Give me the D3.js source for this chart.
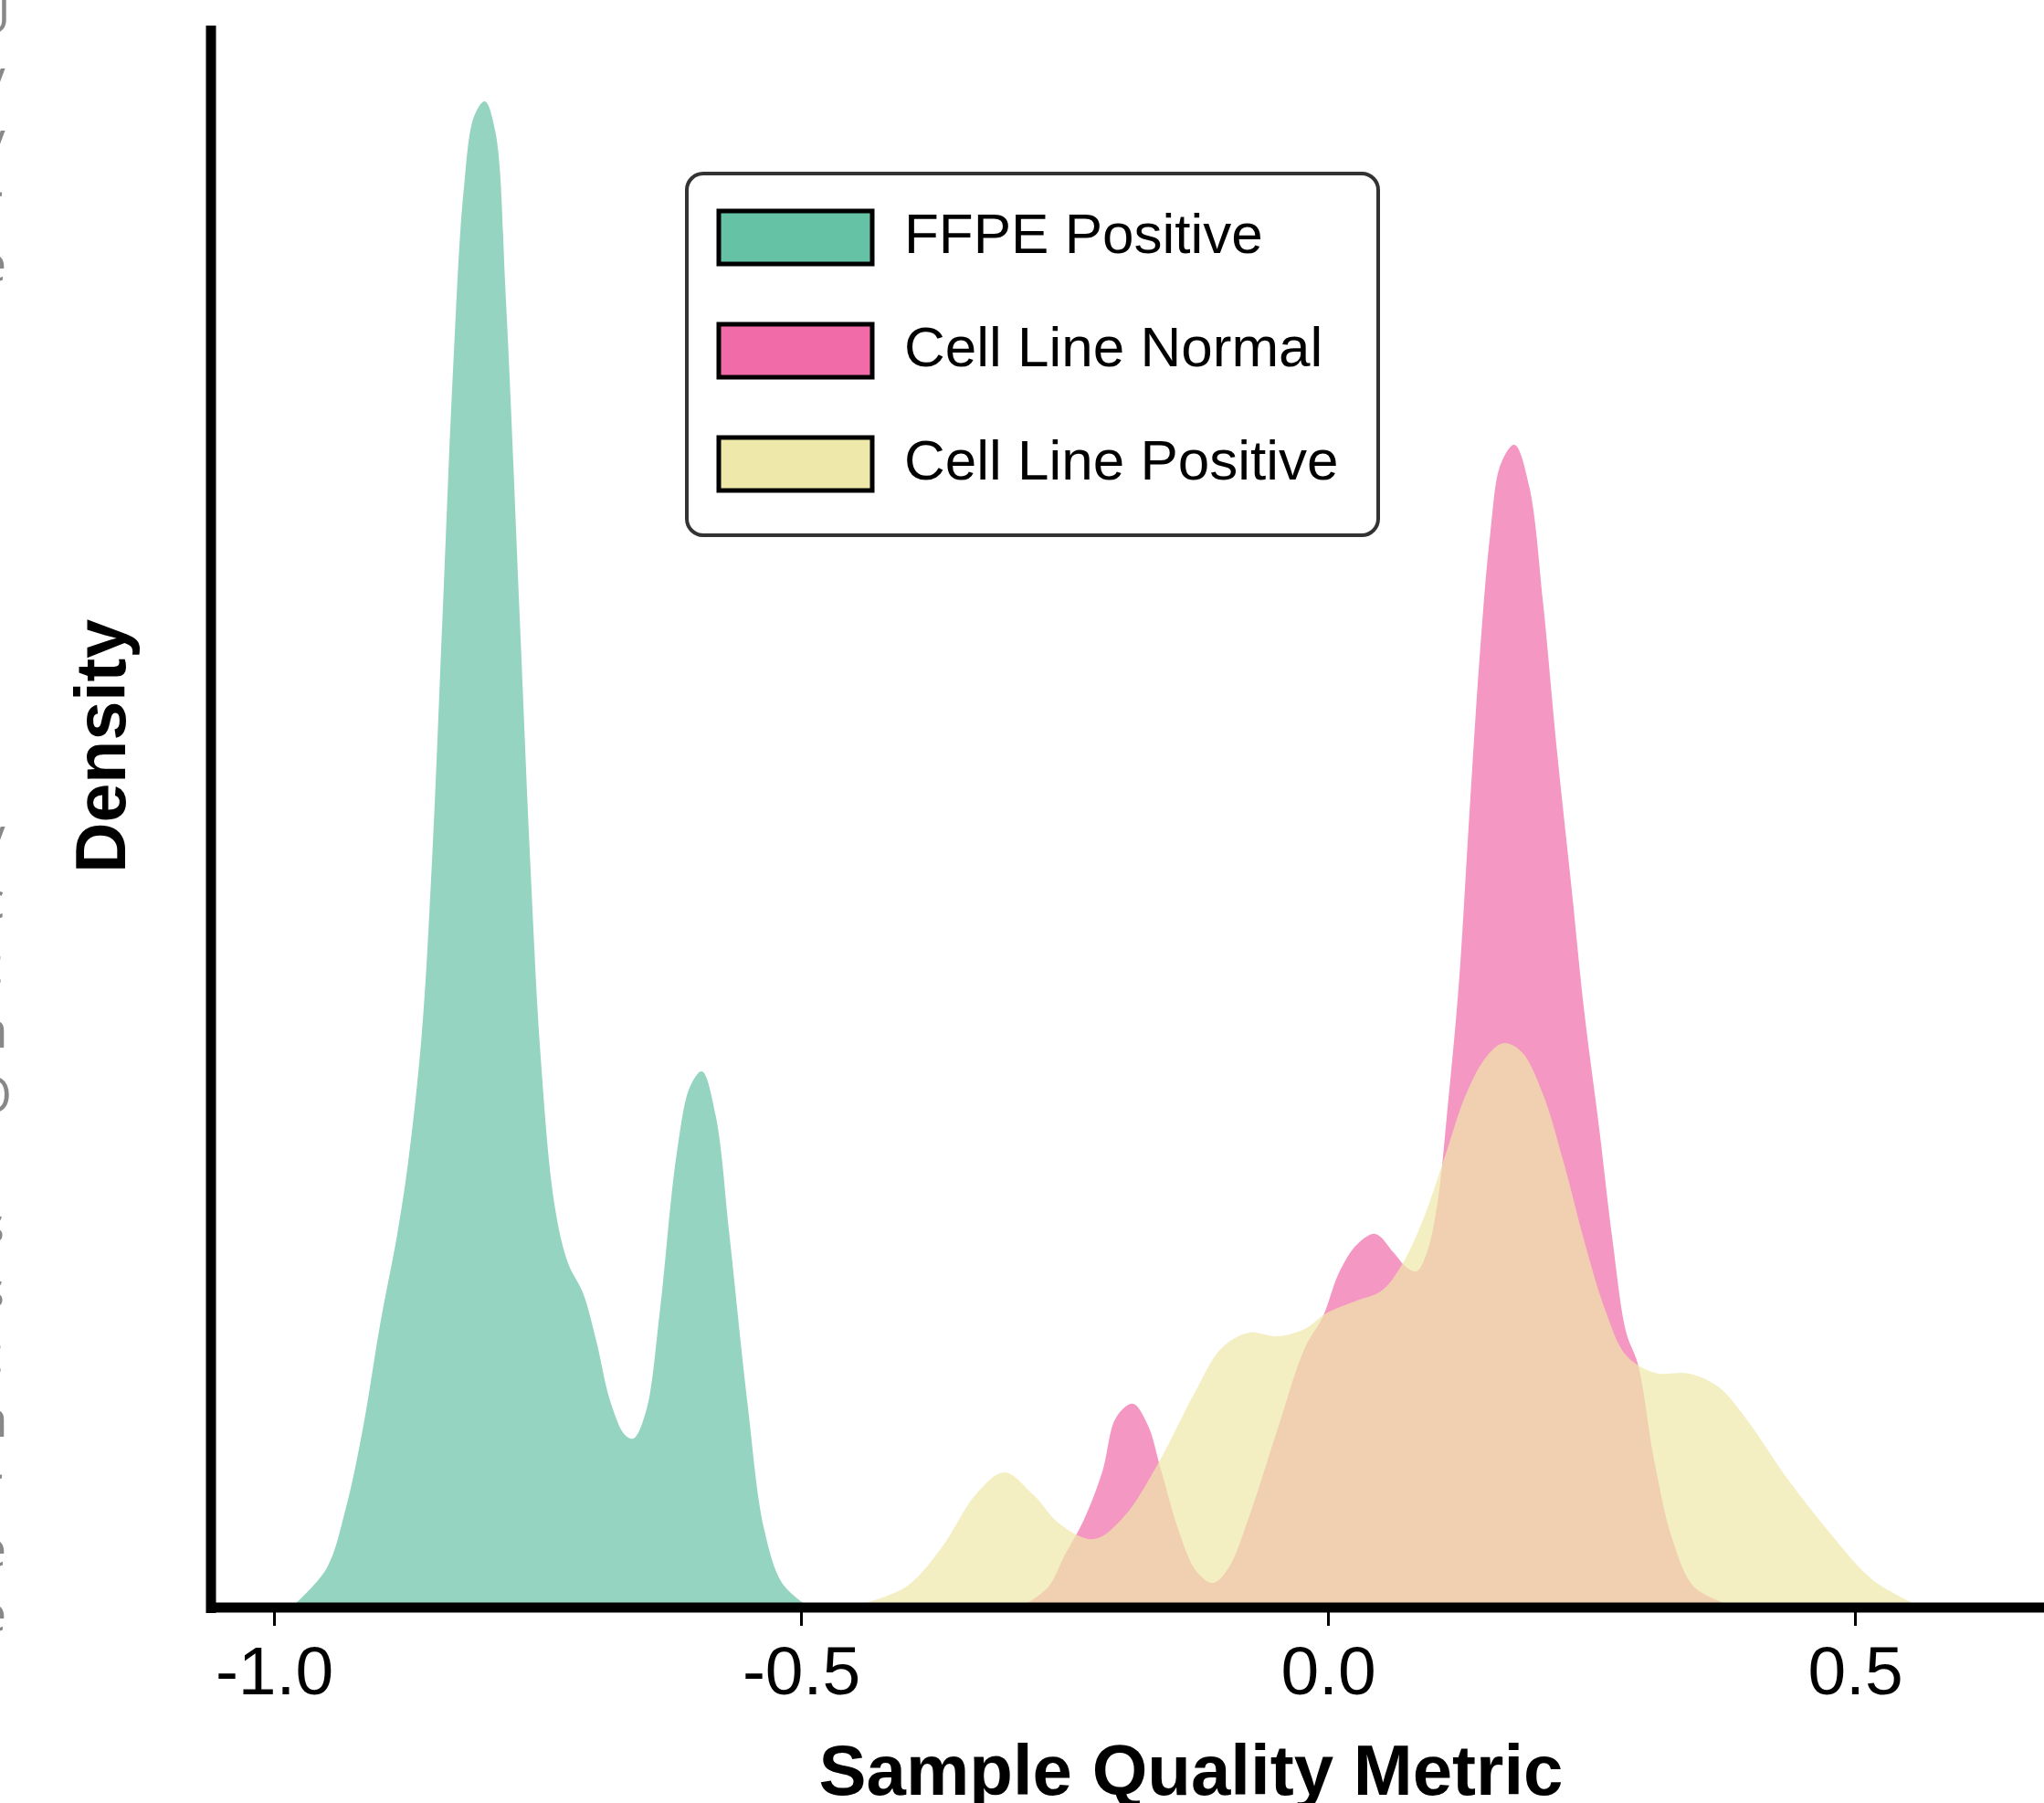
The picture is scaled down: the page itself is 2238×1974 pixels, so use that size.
<!DOCTYPE html>
<html>
<head>
<meta charset="utf-8">
<script src="https://cdn.jsdelivr.net/npm/d3@7"></script>
<style>
  html, body { margin: 0; padding: 0; background: #fff; }
  svg { display: block; }
</style>
</head>
<body>
<svg width="2238" height="1974"></svg>
<script>
// series names and colours
var seriesNames = ["FFPE Positive", "Cell Line Normal", "Cell Line Positive"];
var seriesColors = ["#66c2a5", "#f06ba8", "#eee8aa"];

// density curves: [metric, density]
var ffpePositive = [
  [-0.979, 0], [-0.950, 0.127], [-0.932, 0.343], [-0.916, 0.630], [-0.899, 1.023],
  [-0.883, 1.347], [-0.873, 1.600], [-0.860, 2.067], [-0.850, 2.713], [-0.840, 3.610],
  [-0.830, 4.510], [-0.820, 5.157], [-0.810, 5.427], [-0.800, 5.480], [-0.790, 5.370],
  [-0.780, 4.760], [-0.767, 3.610], [-0.757, 2.713], [-0.747, 1.993], [-0.734, 1.457],
  [-0.721, 1.240], [-0.707, 1.133], [-0.694, 0.953], [-0.681, 0.737], [-0.667, 0.613],
  [-0.659, 0.600], [-0.647, 0.700], [-0.634, 1.060], [-0.618, 1.637], [-0.605, 1.887],
  [-0.594, 1.940], [-0.581, 1.780], [-0.568, 1.347], [-0.551, 0.737], [-0.535, 0.270],
  [-0.518, 0.073], [-0.498, 0]
];
var cellLineNormal = [
  [-0.285, 0], [-0.265, 0.060], [-0.250, 0.173], [-0.232, 0.300], [-0.214, 0.480],
  [-0.201, 0.677], [-0.185, 0.727], [-0.171, 0.650], [-0.158, 0.480], [-0.141, 0.257],
  [-0.125, 0.117], [-0.109, 0.073], [-0.094, 0.130], [-0.075, 0.313], [-0.049, 0.620],
  [-0.022, 0.930], [-0.005, 1.043], [0.011, 1.210], [0.028, 1.310], [0.045, 1.347],
  [0.062, 1.280], [0.075, 1.223], [0.084, 1.210], [0.094, 1.280], [0.104, 1.463],
  [0.114, 1.827], [0.124, 2.250], [0.134, 2.867], [0.144, 3.457], [0.154, 3.903],
  [0.164, 4.157], [0.177, 4.227], [0.191, 4.073], [0.204, 3.653], [0.217, 3.120],
  [0.231, 2.613], [0.243, 2.163], [0.257, 1.743], [0.270, 1.323], [0.283, 0.987],
  [0.294, 0.873], [0.310, 0.510], [0.327, 0.230], [0.347, 0.060], [0.376, 0]
];
var cellLinePositive = [
  [-0.439, 0], [-0.400, 0.060], [-0.367, 0.200], [-0.334, 0.397], [-0.307, 0.477],
  [-0.280, 0.397], [-0.254, 0.287], [-0.222, 0.233], [-0.194, 0.313], [-0.161, 0.510],
  [-0.127, 0.763], [-0.101, 0.930], [-0.075, 0.987], [-0.049, 0.973], [-0.022, 1.000],
  [-0.002, 1.057], [0.025, 1.100], [0.051, 1.140], [0.071, 1.240], [0.091, 1.407],
  [0.111, 1.630], [0.131, 1.857], [0.151, 1.997], [0.167, 2.043], [0.184, 2.010],
  [0.204, 1.857], [0.224, 1.603], [0.243, 1.323], [0.263, 1.070], [0.283, 0.903],
  [0.310, 0.840], [0.343, 0.837], [0.370, 0.790], [0.396, 0.677], [0.436, 0.453],
  [0.476, 0.257], [0.516, 0.087], [0.555, 0]
];
var xTicks = [-1.0, -0.5, 0.0, 0.5];

// faint cut-off text on the left edge
var edgeTop = ["U", "y", "y", "r", "e"];
var edgeBottom = ["l", "y", "c", "t", "n", "O", ".", "s", "s", "t", "n", "r", "e", "e"];

var svg = d3.select("svg");
var font = "'Liberation Sans', Arial, Helvetica, sans-serif";

var x = d3.scaleLinear().domain([-1, 0.5]).range([300, 2031]);
var y = d3.scaleLinear().domain([0, 5.76]).range([1755, 27]);

// keep smoothed curves from dipping under the baseline
svg.append("clipPath").attr("id", "plotclip")
    .append("rect")
    .attr("x", 0).attr("y", 0).attr("width", 2238).attr("height", y(0));

var area = d3.area()
    .x(function(d) { return x(d[0]); })
    .y0(y(0))
    .y1(function(d) { return y(d[1]); })
    .curve(d3.curveCatmullRom.alpha(0.5));

var series = [ffpePositive, cellLineNormal, cellLinePositive];
svg.append("g").attr("clip-path", "url(#plotclip)")
    .selectAll("path.kde")
    .data(series)
    .enter()
    .append("path")
    .attr("class", "kde")
    .attr("d", area)
    .style("fill", function(d, i) { return seriesColors[i]; })
    .style("fill-opacity", 0.7)
    .style("stroke", "none");

// spines
svg.append("line")
    .attr("x1", 231).attr("x2", 231).attr("y1", 28).attr("y2", 1766)
    .style("stroke", "#000").style("stroke-width", 11);
svg.append("line")
    .attr("x1", 226).attr("x2", 2238).attr("y1", 1760).attr("y2", 1760)
    .style("stroke", "#000").style("stroke-width", 11);

var xAxis = svg.append("g")
    .attr("transform", "translate(0,1760)")
    .call(d3.axisBottom(x).tickValues(xTicks).tickFormat(d3.format(".1f")).tickSize(20).tickPadding(22));
xAxis.select(".domain").remove();
xAxis.selectAll(".tick line").style("stroke", "#000").style("stroke-width", 3);
xAxis.selectAll(".tick text")
    .style("font-family", font).style("font-size", "75px").style("fill", "#000")
    .text(function(d) { return d3.format(".1f")(d).replace("−", "-"); });

svg.append("text")
    .attr("x", 1304).attr("y", 1965)
    .attr("text-anchor", "middle")
    .style("font-family", font).style("font-weight", "bold").style("font-size", "78px")
    .text("Sample Quality Metric");

svg.append("text")
    .attr("transform", "translate(137,817) rotate(-90)")
    .attr("text-anchor", "middle")
    .style("font-family", font).style("font-weight", "bold").style("font-size", "77px")
    .text("Density");

// legend
var legend = svg.append("g");
legend.append("rect")
    .attr("x", 752).attr("y", 190).attr("width", 757).attr("height", 396)
    .attr("rx", 18).attr("ry", 18)
    .style("fill", "#fff").style("stroke", "#333").style("stroke-width", 4);
var rows = legend.selectAll("g.row")
    .data(seriesNames)
    .enter()
    .append("g")
    .attr("class", "row")
    .attr("transform", function(d, i) { return "translate(0," + (i * 124) + ")"; });
rows.append("rect")
    .attr("x", 787).attr("y", 231).attr("width", 168).attr("height", 58)
    .style("fill", function(d, i) { return seriesColors[i]; })
    .style("stroke", "#000").style("stroke-width", 5);
rows.append("text")
    .attr("x", 990).attr("y", 277)
    .style("font-family", font).style("font-size", "62px").style("fill", "#000")
    .text(function(d) { return d; });

// edge text
function edgeColumn(chars, start, step) {
  svg.append("g").selectAll("text")
      .data(chars)
      .enter()
      .append("text")
      .attr("x", -8)
      .attr("y", function(d, i) { return start + i * step; })
      .attr("text-anchor", "middle")
      .style("font-family", "'Open Sans', sans-serif").style("font-size", "54px").style("fill", "#888")
      .text(function(d) { return d; });
}
edgeColumn(edgeTop, 36, 68);
edgeColumn(edgeBottom, 863, 71);
</script>
</body>
</html>
